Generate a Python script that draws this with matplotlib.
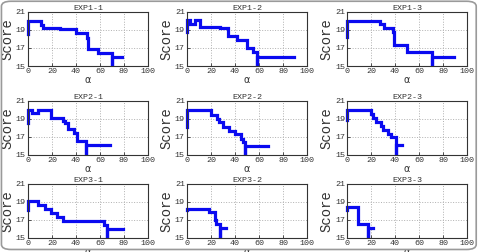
import matplotlib
matplotlib.use("Agg")
import matplotlib.pyplot as plt
from matplotlib.patches import FancyBboxPatch

# panel titles
titles = ["EXP1-1", "EXP1-2", "EXP1-3",
          "EXP2-1", "EXP2-2", "EXP2-3",
          "EXP3-1", "EXP3-2", "EXP3-3"]

# score at alpha = 0 (before the first jump)
start_score = [18.6, 18.8, 18.2, 18.5, 18.1, 18.9, 18.1, 18.05, 18.1]

# alpha where the score changes, and the score from there on
alpha_steps = [
    [0, 10.6, 12.6, 27, 40, 49, 50.3, 58, 70],
    [0, 2.8, 6.9, 10.6, 27.8, 34.4, 42, 50, 55, 58.3],
    [0, 27.8, 31, 38, 39.4, 50, 71],
    [0, 3.4, 8.5, 19.6, 29.5, 31, 33, 38, 41, 48],
    [0, 20.4, 25, 26.5, 30, 35, 39.7, 44.7, 47, 48.3],
    [0, 20.3, 21.5, 24, 28, 30, 34.4, 36.6, 40.8],
    [0, 8.6, 14.3, 19.4, 24.3, 29, 63, 66],
    [0, 18, 23.7, 24.5, 27.4],
    [0, 9.3, 17.8],
]
score_steps = [
    [20.0, 19.5, 19.2, 19.1, 18.7, 18.1, 16.85, 16.4, 15],
    [20.1, 19.7, 20.1, 19.3, 19.2, 18.3, 17.85, 16.95, 16.55, 15],
    [20.0, 19.6, 19.2, 18.8, 17.35, 16.5, 15],
    [20.0, 19.65, 20.0, 19.15, 18.8, 18.5, 17.9, 17.45, 16.5, 15],
    [19.95, 19.45, 19.0, 18.6, 18.15, 17.7, 17.3, 16.8, 16.4, 15],
    [20.0, 19.5, 19.1, 18.65, 18.2, 17.75, 17.35, 17.0, 15],
    [19.05, 18.6, 18.15, 17.75, 17.3, 16.9, 16.45, 15],
    [18.2, 17.85, 16.95, 16.5, 15],
    [18.4, 16.55, 15],
]

# last short segment at score 16
tail_score = [16.0, 16.05, 16.05, 16.05, 16.0, 16.1, 16.0, 16.05, 16.1]
tail_end = [78, 89, 89, 68, 67.6, 45.6, 79, 32.7, 21.8]

mono = "Liberation Mono"

fig = plt.figure(figsize=(4.82, 2.52), dpi=100)

# grey rounded frame around the whole figure
frame = FancyBboxPatch((0.003, 0.01), 0.985, 0.985,
                       boxstyle="round,pad=0,rounding_size=0.02",
                       transform=fig.transFigure, fill=False,
                       edgecolor="#9a9a9a", linewidth=1.2)
fig.patches.append(frame)

lefts = [0.058, 0.388, 0.720]
bottoms = [0.738, 0.385, 0.056]
w, h = 0.249, 0.215

for i in range(9):
    r, c = divmod(i, 3)
    ax = fig.add_axes([lefts[c], bottoms[r], w, h])

    xs = [0] + alpha_steps[i] + [alpha_steps[i][-1], tail_end[i]]
    ys = [start_score[i]] + score_steps[i] + [tail_score[i], tail_score[i]]
    ax.plot(xs, ys, drawstyle="steps-post", color="#0a0af0", lw=2.3,
            solid_joinstyle="miter", clip_on=False)

    ax.set_xlim(0, 100)
    ax.set_ylim(15, 21)
    ax.set_xticks([0, 20, 40, 60, 80, 100])
    ax.set_yticks([15, 17, 19, 21])
    ax.grid(True, linestyle=":", color="#b0b0b0", linewidth=0.7)
    ax.tick_params(direction="in", length=2, width=0.6, pad=1.5,
                   labelsize=6, colors="#333333")
    for lab in ax.get_xticklabels() + ax.get_yticklabels():
        lab.set_family(mono)
    for s in ax.spines.values():
        s.set_linewidth(0.8)
        s.set_color("#333333")

    ax.set_title(titles[i], fontsize=6, family=mono, pad=1.5, color="#333333")
    ax.set_ylabel("Score", fontsize=10, family=mono, labelpad=1, color="#333333")
    ax.set_xlabel("α", fontsize=7, labelpad=0, color="#333333")

fig.savefig("out.png", dpi=100)
